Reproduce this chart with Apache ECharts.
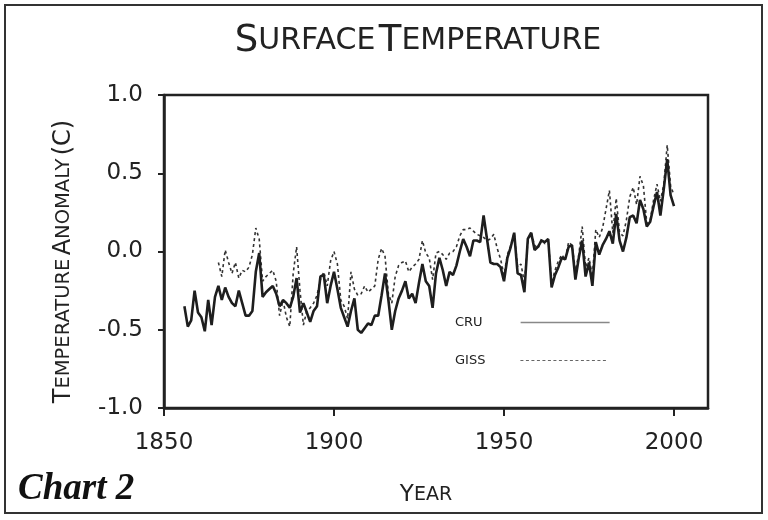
<!DOCTYPE html>
<html>
<head>
<meta charset="utf-8">
<script src="https://cdn.jsdelivr.net/npm/echarts@6/dist/echarts.min.js"></script>
<style>
html,body{margin:0;padding:0;background:#fff;}
#chart{width:768px;height:520px;}
</style>
</head>
<body>
<div id="chart"></div>
<script>
// ---- Data ----
var cruStartYear = 1856;
var cruValues = [
  -0.35,-0.48,-0.44,-0.25,
  -0.39,-0.42,-0.51,-0.31,-0.47,-0.29,-0.22,-0.31,-0.23,-0.29,
  -0.33,-0.35,-0.25,-0.33,-0.41,-0.41,-0.38,-0.13,-0.01,-0.29,
  -0.26,-0.24,-0.22,-0.27,-0.35,-0.31,-0.33,-0.36,-0.29,-0.17,
  -0.39,-0.33,-0.39,-0.45,-0.38,-0.35,-0.16,-0.15,-0.33,-0.22,
  -0.13,-0.24,-0.36,-0.42,-0.48,-0.38,-0.30,-0.50,-0.52,-0.49,
  -0.46,-0.47,-0.41,-0.41,-0.28,-0.14,-0.31,-0.50,-0.38,-0.30,
  -0.25,-0.19,-0.30,-0.27,-0.33,-0.20,-0.08,-0.19,-0.22,-0.36,
  -0.14,-0.04,-0.12,-0.22,-0.13,-0.15,-0.09,0.00,0.08,0.03,
  -0.03,0.07,0.07,0.06,0.23,0.08,-0.07,-0.08,-0.08,-0.10,
  -0.19,-0.04,0.03,0.12,-0.14,-0.15,-0.26,0.08,0.12,0.01,
  0.03,0.07,0.06,0.08,-0.23,-0.15,-0.10,-0.04,-0.05,0.03,
  0.04,-0.18,-0.04,0.07,-0.16,-0.07,-0.22,0.06,-0.02,0.04,
  0.08,0.13,0.05,0.24,0.07,0.00,0.09,0.22,0.23,0.18,
  0.33,0.27,0.16,0.19,0.29,0.38,0.23,0.40,0.59,0.36,
  0.29
];
var gissStartYear = 1866;
var gissValues = [
  -0.07,-0.16,0.01,-0.07,
  -0.14,-0.07,-0.17,-0.12,-0.13,-0.10,-0.02,0.15,0.08,-0.19,
  -0.16,-0.14,-0.12,-0.19,-0.41,-0.31,-0.42,-0.48,-0.14,0.03,
  -0.25,-0.47,-0.38,-0.36,-0.33,-0.28,-0.18,-0.13,-0.22,-0.06,
  0.00,-0.08,-0.31,-0.35,-0.43,-0.13,-0.24,-0.28,-0.27,-0.22,
  -0.26,-0.24,-0.22,-0.05,0.02,-0.03,-0.27,-0.33,-0.16,-0.09,
  -0.07,-0.06,-0.13,-0.10,-0.08,-0.05,0.07,-0.01,-0.04,-0.18,
  -0.01,0.00,-0.02,-0.05,-0.01,0.00,0.03,0.10,0.14,0.14,
  0.15,0.13,0.11,0.10,0.09,0.07,0.08,0.11,0.02,-0.05,
  -0.15,-0.02,0.04,0.12,-0.10,-0.08,-0.20,0.06,0.12,0.04,
  0.02,0.08,0.05,0.08,-0.20,-0.12,-0.06,-0.02,-0.05,0.06,
  0.04,-0.12,-0.02,0.16,-0.10,-0.04,-0.16,0.14,0.09,0.15,
  0.27,0.39,0.12,0.34,0.12,0.10,0.20,0.35,0.41,0.30,
  0.48,0.42,0.18,0.20,0.33,0.43,0.32,0.43,0.68,0.42,
  0.36
];
var xTickLabels = [1850, 1900, 1950, 2000];
var yTickLabels = [-1.0, -0.5, 0.0, 0.5, 1.0];
var seriesNames = ['CRU', 'GISS'];

function toPairs(start, vals) {
  return vals.map(function (v, i) { return [start + i, v]; });
}

var FONT = '"DejaVu Sans", Lato, sans-serif';
var INK = '#222';

var chart = echarts.init(document.getElementById('chart'), null, {renderer: 'canvas'});
var option = {
  backgroundColor: '#fff',
  animation: false,
  grid: {left: 164, right: 60, top: 95, bottom: 112, show: true, borderColor: INK, borderWidth: 2.5, backgroundColor: 'transparent'},
  xAxis: {
    type: 'value', min: 1850, max: 2010, interval: 50,
    splitLine: {show: false},
    axisLine: {onZero: false, lineStyle: {color: INK, width: 2.5}},
    axisTick: {show: true, length: 8, lineStyle: {color: INK, width: 2}, customValues: xTickLabels},
    axisLabel: {customValues: xTickLabels, margin: 24, fontSize: 23, color: INK, fontFamily: FONT,
      formatter: function (v) { return String(v); }},
    name: '{a|Y}{b|EAR}',
    nameLocation: 'middle', nameGap: 76,
    nameTextStyle: {padding: [0, 20, 0, 0], rich: {
      a: {fontSize: 23, fontFamily: FONT, color: INK},
      b: {fontSize: 19, fontFamily: FONT, color: INK}
    }}
  },
  yAxis: {
    type: 'value', min: -1, max: 1, interval: 0.5,
    splitLine: {show: false},
    axisLine: {show: true, lineStyle: {color: INK, width: 2.5}},
    axisTick: {show: true, length: 6, lineStyle: {color: INK, width: 2}},
    axisLabel: {margin: 21, fontSize: 23, color: INK, fontFamily: FONT,
      formatter: function (v) { return v.toFixed(1); }},
    name: '{a|T}{b|EMPERATURE} {a|A}{b|NOMALY} {a|(C)}',
    nameLocation: 'middle', nameRotate: 90, nameGap: 88,
    nameTextStyle: {padding: [0, 20, 0, 0], rich: {
      a: {fontSize: 24, fontFamily: FONT, color: INK},
      b: {fontSize: 19.5, fontFamily: FONT, color: INK}
    }}
  },
  legend: [
    {data: [seriesNames[0]], left: 455, top: 316, padding: 0, align: 'right', itemWidth: 89, itemHeight: 14,
     textStyle: {fontSize: 13, fontFamily: FONT, color: INK, padding: [0, 33, 0, 0]},
     itemStyle: {opacity: 0},
     lineStyle: {color: '#888', width: 1.5, type: 'solid', opacity: 1}},
    {data: [seriesNames[1]], left: 455, top: 354, padding: 0, align: 'right', itemWidth: 86, itemHeight: 14,
     textStyle: {fontSize: 13, fontFamily: FONT, color: INK, padding: [0, 30, 0, 0]},
     itemStyle: {opacity: 0},
     lineStyle: {color: '#666', width: 1.2, type: [3, 2.5], opacity: 1}}
  ],
  series: [
    {name: seriesNames[1], type: 'line', data: toPairs(gissStartYear, gissValues), symbol: 'none',
     lineStyle: {color: '#333', width: 1.6, type: [3, 3]}, z: 2},
    {name: seriesNames[0], type: 'line', data: toPairs(cruStartYear, cruValues), symbol: 'none',
     lineStyle: {color: '#1e1e1e', width: 2.6}, z: 3}
  ],
  graphic: [
    {type: 'rect', shape: {x: 5, y: 5, width: 757, height: 508}, style: {fill: 'none', stroke: '#333', lineWidth: 2}, silent: true, z: -1},
    {type: 'text', x: 418, y: 41, style: {
      text: '{a|S}{b|URFACE} {a|T}{b|EMPERATURE}', align: 'center', verticalAlign: 'middle',
      rich: {a: {fontSize: 37, fontFamily: FONT, fill: INK}, b: {fontSize: 30, fontFamily: FONT, fill: INK}}
    }},
    {type: 'text', x: 18, y: 489, style: {
      text: 'Chart 2', fontSize: 37, fontWeight: 'bold', fontStyle: 'italic',
      fontFamily: '"Liberation Serif", "DejaVu Serif", serif', fill: '#111', align: 'left', verticalAlign: 'middle'
    }}
  ]
};
chart.setOption(option);
</script>
</body>
</html>
